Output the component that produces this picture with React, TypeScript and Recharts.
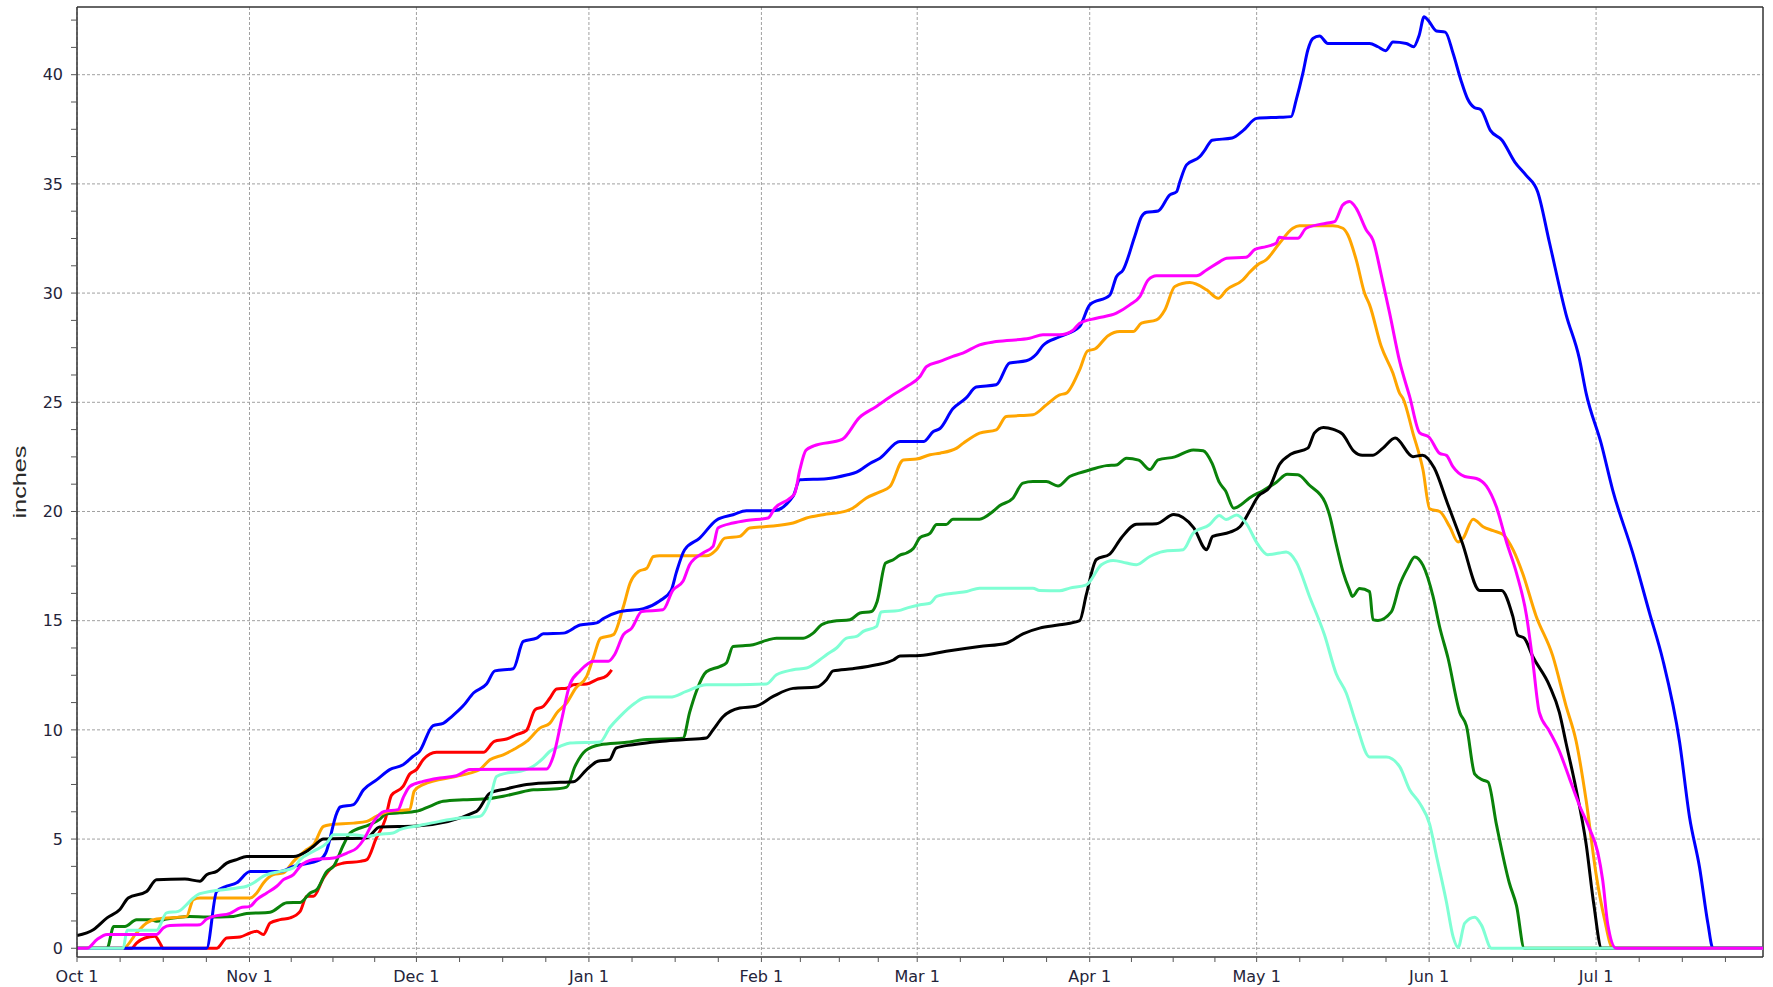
import { CartesianGrid, Line, LineChart, XAxis, YAxis } from 'recharts'

// day 0 = Oct 1, day 303 = Jul 31
const MONTH_DAYS = [0, 31, 61, 92, 123, 151, 182, 212, 243, 273]
const MONTH_LENGTHS = [31, 30, 31, 31, 28, 31, 30, 31, 30, 31]
const MONTH_LABELS = ['Oct 1', 'Nov 1', 'Dec 1', 'Jan 1', 'Feb 1', 'Mar 1', 'Apr 1', 'May 1', 'Jun 1', 'Jul 1']
const X_DOMAIN = [0, 303]
const Y_DOMAIN = [-0.4, 43.1]
const Y_GRID = [0, 5, 10, 15, 20, 25, 30, 35, 40]
const Y_TICKS = [
  0, 1.25, 2.5, 3.75, 5, 6.25, 7.5, 8.75, 10, 11.25, 12.5, 13.75, 15, 16.25, 17.5, 18.75, 20,
  21.25, 22.5, 23.75, 25, 26.25, 27.5, 28.75, 30, 31.25, 32.5, 33.75, 35, 36.25, 37.5, 38.75,
  40, 41.25, 42.5,
]

// [day, inches]
const black = [
  [0, 0.58], [3, 0.86], [5.4, 1.39], [7.7, 1.77], [9.2, 2.3], [12.5, 2.6], [14.3, 3.14], [19.4, 3.17],
  [22.1, 3.07], [23.3, 3.37], [25.1, 3.52], [26.9, 3.9], [28.7, 4.06], [30.5, 4.2], [38.9, 4.2],
  [41.3, 4.44], [42.5, 4.67], [44.3, 5.0], [52, 5.05], [54.4, 5.55], [61, 5.6], [71.8, 6.27],
  [74.2, 7.1], [77.2, 7.3], [80.8, 7.5], [86.8, 7.6], [89.2, 7.62], [91.6, 8.18], [93.6, 8.56],
  [95.7, 8.63], [96.9, 9.17], [99.9, 9.32], [104.7, 9.47], [108.9, 9.55], [113.1, 9.63], [114.3, 10.0],
  [116.1, 10.6], [119.1, 11.0], [122, 11.08], [125.1, 11.53], [128.7, 11.9], [132.9, 11.96],
  [134.7, 12.3], [135.9, 12.7], [139.4, 12.8], [143.7, 12.98], [146.7, 13.2], [147.9, 13.38],
  [151.5, 13.4], [156.2, 13.6], [162.2, 13.82], [167, 13.97], [170, 14.4], [173, 14.66],
  [176.6, 14.81], [180.2, 15.0], [181.4, 16.2], [183.2, 17.8], [185.6, 18.05], [187.7, 18.8],
  [190.4, 19.42], [194, 19.44], [197.1, 19.86], [200.7, 19.25], [203, 18.25], [204.1, 18.86],
  [207.2, 19.05], [209, 19.3], [210.7, 20.0], [212.3, 20.7], [214.3, 21.1], [216.1, 22.15],
  [218.2, 22.63], [221.2, 22.9], [222.4, 23.6], [224, 23.85], [225.8, 23.76], [227.4, 23.55],
  [229.5, 22.75], [231, 22.57], [232.9, 22.58], [234.7, 22.9], [236.9, 23.36], [240.1, 22.51],
  [241.8, 22.58], [243.9, 22.0], [246.3, 20.37], [248.9, 18.6], [252.1, 16.38], [256, 16.38],
  [258, 15.23], [258.9, 14.34], [260.1, 14.2], [261.6, 13.37], [264.6, 12.04], [266.4, 10.8],
  [267.6, 9.4], [269.4, 7.3], [271.2, 4.8], [272.6, 2.0], [274, 0], [303, 0],
]

const blue = [
  [0, 0], [23.3, 0], [25.1, 2.6], [26.9, 2.84], [28.7, 3.0], [31.1, 3.52], [36.5, 3.52], [38.9, 3.75],
  [43.7, 4.06], [44.7, 4.36], [46.7, 6.2], [47.3, 6.47], [49.7, 6.58], [51.5, 7.26], [53.9, 7.72],
  [56.2, 8.18], [58.6, 8.4], [60.4, 8.79], [61.5, 9.0], [64, 10.2], [65.8, 10.3], [67.3, 10.6],
  [69.4, 11.1], [71.3, 11.7], [73.6, 12.1], [75.1, 12.7], [78.4, 12.8], [80.2, 14.05], [82.6, 14.2],
  [83.8, 14.4], [87.4, 14.43], [90.4, 14.8], [93.4, 14.9], [94.6, 15.1], [97.3, 15.4], [101.8, 15.55],
  [104.7, 15.9], [106.8, 16.4], [107.7, 17.2], [109.2, 18.25], [111.9, 18.78], [114.9, 19.6],
  [117.9, 19.85], [120.3, 20.03], [125.1, 20.03], [128.7, 20.7], [129.9, 21.45], [134.7, 21.5],
  [138.3, 21.67], [140.1, 21.8], [142.5, 22.2], [144.3, 22.44], [147.9, 23.2], [152.1, 23.2],
  [153.9, 23.66], [155.1, 23.8], [157.4, 24.7], [159.8, 25.2], [161.6, 25.7], [165.2, 25.8],
  [167.6, 26.8], [170.6, 26.9], [172.4, 27.2], [173.6, 27.6], [176.6, 28.0], [180.2, 28.47],
  [182, 29.46], [185.6, 29.9], [186.8, 30.75], [188, 31.06], [190.1, 32.6], [191.3, 33.5],
  [192.2, 33.7], [194.3, 33.76], [196.4, 34.5], [197.6, 34.64], [198.2, 35.1], [199.4, 35.87],
  [201.8, 36.25], [202.7, 36.55], [204, 37.0], [207.6, 37.1], [209.6, 37.45], [212, 38.0],
  [216.1, 38.05], [218.2, 38.08], [219.1, 38.84], [220.3, 40.06], [221.2, 41.13], [222.1, 41.66],
  [223.3, 41.77], [224.8, 41.43], [232.3, 41.43], [233.8, 41.28], [235.2, 41.1], [236.5, 41.5],
  [238.9, 41.43], [240.2, 41.28], [241.2, 41.8], [242.1, 42.65], [242.8, 42.5], [244.3, 42.0],
  [245.9, 41.95], [247.3, 40.98], [248.7, 39.76], [249.9, 38.9], [251.1, 38.5], [252.3, 38.4],
  [254, 37.45], [256.1, 37.0], [258.4, 36.0], [260.4, 35.4], [262.5, 34.64], [264.6, 32.34],
  [267.6, 29.03], [270, 27.0], [271.2, 25.43], [273.9, 23.13], [276, 20.97], [279.6, 18.09],
  [282.6, 15.36], [285, 13.2], [288, 9.46], [289.8, 6.0], [291.6, 3.7], [293.1, 1.13], [294, 0],
  [303, 0],
]

const magenta = [
  [0, 0], [1.8, 0], [3.6, 0.4], [5.4, 0.63], [14.3, 0.63], [15.5, 0.93], [16.7, 1.04], [22.1, 1.08],
  [23.3, 1.34], [24.5, 1.46], [27.5, 1.6], [29.3, 1.85], [31.1, 1.92], [32.3, 2.23], [34.1, 2.53],
  [35.9, 2.84], [37.1, 3.14], [38.9, 3.37], [40.1, 3.75], [42.5, 4.06], [46.1, 4.13], [48.5, 4.36],
  [50.3, 4.59], [51.5, 4.97], [53.3, 5.8], [55.2, 6.27], [57.7, 6.35], [58.6, 6.88], [59.8, 7.41],
  [62.2, 7.64], [65.2, 7.8], [68.2, 7.9], [70.6, 8.18], [84.4, 8.21], [85.6, 8.79], [87.1, 10.47],
  [88.6, 12.1], [90.4, 12.7], [92.8, 13.14], [95.5, 13.14], [96.6, 13.44], [98.2, 14.36],
  [99.7, 14.66], [101.5, 15.42], [105.3, 15.5], [107.1, 16.4], [108.9, 16.8], [110.1, 17.56],
  [112.5, 18.1], [114.3, 18.4], [115.2, 19.24], [117.9, 19.47], [120.3, 19.59], [124.2, 19.7],
  [125.4, 20.15], [128.1, 20.6], [129, 20.84], [129.9, 21.9], [131, 22.8], [132.4, 23.0],
  [137.5, 23.3], [140.6, 24.3], [143.6, 24.8], [146.7, 25.34], [149.1, 25.72], [151.5, 26.18],
  [152.7, 26.64], [155.1, 26.87], [157.4, 27.1], [159.2, 27.25], [162.2, 27.63], [165.2, 27.78],
  [171.2, 27.93], [173.6, 28.09], [176.6, 28.09], [179, 28.3], [180.2, 28.62], [183.2, 28.85],
  [186.8, 29.08], [189.2, 29.46], [191, 29.84], [192.5, 30.6], [194, 30.79], [201.2, 30.79],
  [203, 31.06], [205.4, 31.44], [206.6, 31.6], [210.1, 31.64], [211.7, 32.0], [213.7, 32.13],
  [215.5, 32.28], [216.1, 32.56], [217.3, 32.51], [219.4, 32.51], [220.9, 32.97], [224.5, 33.2],
  [226, 33.27], [227.5, 34.04], [228.7, 34.19], [229.9, 33.88], [231.7, 32.89], [232.9, 32.43],
  [234.4, 30.83], [235.9, 29.08], [237.7, 26.87], [239.5, 25.26], [241.3, 23.6], [243, 23.4],
  [244.9, 22.66], [246.1, 22.57], [247.3, 22.04], [249.4, 21.6], [251.5, 21.51], [253.3, 21.16],
  [255.1, 20.2], [256.9, 18.6], [258.7, 17.18], [260.5, 15.23], [261.6, 13.2], [262.8, 10.8],
  [264.6, 9.95], [266.4, 9.03], [268.2, 7.79], [270, 6.55], [271.8, 5.49], [273.3, 4.4],
  [274.2, 3.1], [275.1, 1.1], [276.6, 0], [303, 0],
]

const orange = [
  [0, 0], [8.3, 0], [10.7, 0.7], [12.5, 1.16], [14.3, 1.34], [19.7, 1.46], [20.9, 2.23], [22.1, 2.3],
  [31.1, 2.3], [32.3, 2.53], [33.5, 2.99], [35.3, 3.37], [37.1, 3.45], [38.9, 3.98], [41.3, 4.52],
  [42.5, 4.74], [44.3, 5.58], [45.5, 5.66], [49.7, 5.73], [52.1, 5.81], [53.8, 6.04], [56.2, 6.27],
  [59.8, 6.35], [60.6, 7.2], [62.2, 7.49], [68.2, 7.87], [70.6, 8.02], [72.4, 8.18], [74.2, 8.63],
  [76.6, 8.86], [78.4, 9.09], [80.8, 9.47], [83.2, 10.08], [85, 10.31], [86.2, 10.77], [88, 11.23],
  [89.6, 11.9], [91.6, 12.45], [92.8, 13.3], [94.1, 14.2], [96.4, 14.36], [98.2, 15.65],
  [99.4, 16.72], [100.9, 17.25], [102.4, 17.4], [103.6, 17.94], [104.7, 17.97], [113.1, 17.97],
  [114.9, 18.25], [116.4, 18.78], [119.1, 18.86], [120.9, 19.24], [123.9, 19.31], [128.7, 19.47],
  [131.1, 19.7], [134.1, 19.85], [138.3, 20.03], [139.4, 20.15], [141.8, 20.61], [144.3, 20.9],
  [146.1, 21.14], [148.5, 22.36], [150.9, 22.4], [153.3, 22.6], [155.1, 22.67], [158.1, 22.9],
  [159.3, 23.13], [162.2, 23.59], [165.2, 23.74], [167, 24.35], [171.8, 24.43], [174.2, 24.88],
  [176.6, 25.34], [177.8, 25.42], [180.2, 26.5], [181.6, 27.35], [183, 27.45], [185.3, 28.05],
  [187.4, 28.24], [189.8, 28.24], [191.3, 28.62], [194, 28.77], [195.5, 29.23], [197.3, 30.3],
  [200, 30.48], [203, 30.15], [205.1, 29.76], [206.6, 30.15], [209.5, 30.6], [210.7, 30.94],
  [212.2, 31.3], [213.7, 31.52], [216.1, 32.28], [218.5, 32.97], [219.7, 33.08], [225.7, 33.08],
  [227.5, 32.97], [228.4, 32.66], [229.9, 31.52], [231.4, 29.99], [232.3, 29.46], [234.4, 27.55],
  [236.5, 26.33], [237.7, 25.41], [238.3, 25.18], [240.1, 23.58], [241.9, 21.9], [243.1, 20.12],
  [244.9, 20.0], [246.7, 19.3], [248.2, 18.6], [249.1, 18.77], [250.9, 19.65], [252.7, 19.3],
  [254.5, 19.12], [256.3, 18.94], [258.1, 18.24], [259.8, 17.17], [262.2, 15.23], [265.2, 13.4],
  [267.6, 11.1], [269.4, 9.5], [271.2, 6.8], [273, 3.4], [274.5, 1.35], [276, 0], [303, 0],
]

const green = [
  [0, 0], [5.4, 0], [6.6, 1.0], [8.6, 1.0], [10.7, 1.31], [13.1, 1.31], [14.3, 1.24], [16.1, 1.34],
  [20.3, 1.46], [23.3, 1.43], [28.1, 1.46], [30.5, 1.59], [34.7, 1.65], [37.7, 2.08], [40.1, 2.1],
  [41.9, 2.53], [43.1, 2.69], [44.9, 3.52], [46.1, 3.75], [47.9, 4.74], [49.1, 5.28], [52.6, 5.66],
  [54.4, 5.9], [55.5, 6.15], [58, 6.2], [61, 6.27], [63.4, 6.5], [65.8, 6.73], [69.4, 6.8], [73, 6.83],
  [76.6, 6.96], [79, 7.1], [82, 7.26], [85.6, 7.29], [88, 7.38], [89.5, 8.33], [91.4, 9.05],
  [94, 9.32], [98.8, 9.43], [101.8, 9.55], [108.9, 9.62], [110.1, 10.8], [111.3, 11.76],
  [113.1, 12.66], [115.5, 12.9], [116.7, 13.06], [117.9, 13.82], [119.7, 13.85], [121.5, 13.9],
  [123.9, 14.1], [125.7, 14.2], [130.5, 14.2], [132.3, 14.43], [133.8, 14.81], [135.9, 14.97],
  [138.9, 15.04], [140.7, 15.35], [142.8, 15.42], [143.8, 15.88], [145.3, 17.63], [146.7, 17.79],
  [147.9, 18.0], [149.1, 18.1], [150.3, 18.3], [151.5, 18.8], [153.3, 19.0], [154.5, 19.4],
  [156.2, 19.4], [157.4, 19.65], [162.2, 19.65], [164.6, 20.0], [165.8, 20.26], [168.2, 20.61],
  [170, 21.3], [171.8, 21.37], [174.2, 21.37], [176.3, 21.17], [178.4, 21.6], [180.2, 21.77],
  [182, 21.9], [185, 22.1], [186.8, 22.13], [188.6, 22.44], [190.8, 22.35], [192.8, 21.92],
  [194.3, 22.36], [197.3, 22.5], [200.6, 22.82], [202.4, 22.78], [204, 22.2], [205.3, 21.33],
  [206.4, 20.95], [207.9, 20.15], [209.3, 20.33], [210.7, 20.62], [213.1, 20.95], [215.5, 21.33],
  [217.5, 21.7], [219.4, 21.68], [221.5, 21.2], [224.3, 20.42], [225.1, 19.83], [226.3, 18.5],
  [227.5, 17.26], [228.7, 16.4], [229.2, 16.11], [230.5, 16.47], [232.3, 16.33], [232.9, 15.05],
  [233.8, 15.01], [236.2, 15.4], [237.7, 16.64], [239.2, 17.44], [240.4, 17.92], [241.9, 17.53],
  [243.7, 16.11], [244.9, 14.7], [246.4, 13.28], [248.5, 10.8], [249.7, 10.18], [251.2, 7.97],
  [252.7, 7.7], [253.6, 7.61], [255.1, 5.66], [257.4, 3.0], [258.7, 1.95], [260.1, 0], [303, 0],
]

const aqua = [
  [0, 0], [8.3, 0], [9, 0.82], [14.3, 0.82], [16.1, 1.62], [18.2, 1.69], [19.7, 2.0], [20.9, 2.3],
  [22.1, 2.5], [28.7, 2.76], [30.5, 2.84], [31.7, 2.99], [33.5, 3.3], [36.5, 3.52], [38.9, 3.68],
  [40.1, 4.06], [42.5, 4.44], [44.9, 4.82], [46.1, 5.2], [49.7, 5.2], [52.1, 5.12], [54.4, 5.22],
  [56.8, 5.28], [58, 5.43], [61.3, 5.61], [65.2, 5.81], [68.8, 5.96], [72.4, 6.04], [74.2, 6.8],
  [75.4, 7.87], [77.2, 8.02], [79.6, 8.1], [82, 8.33], [83.8, 8.71], [85, 9.02], [86.8, 9.24],
  [88.6, 9.4], [94, 9.45], [95.8, 10.12], [97.6, 10.62], [100.3, 11.23], [101.8, 11.46],
  [103, 11.5], [106.6, 11.5], [109.5, 11.76], [113.1, 12.07], [118.5, 12.07], [123.9, 12.1],
  [125.7, 12.52], [128.7, 12.75], [131.1, 12.83], [133.5, 13.21], [134.7, 13.44], [136.5, 13.75],
  [138.3, 14.2], [140.1, 14.28], [141.3, 14.51], [143.7, 14.74], [144.5, 15.4], [147.6, 15.46],
  [149.4, 15.6], [151.5, 15.73], [153.3, 15.8], [154.5, 16.11], [157.4, 16.26], [159.9, 16.34],
  [162.2, 16.49], [171.8, 16.49], [173, 16.38], [176.6, 16.37], [178.4, 16.49], [181.4, 16.64],
  [184.1, 17.56], [186.2, 17.76], [188.6, 17.64], [190.4, 17.56], [192.8, 17.94], [195.2, 18.17],
  [198.8, 18.25], [200.6, 19.01], [203.5, 19.39], [205.3, 19.82], [206.5, 19.63], [208.4, 19.84],
  [210.1, 19.47], [212.2, 18.5], [214, 18.02], [216.1, 18.1], [217.3, 18.14], [219.1, 17.7],
  [221.5, 16.11], [224.2, 14.34], [226.3, 12.57], [228.1, 11.69], [229.9, 10.27], [232.3, 8.76],
  [235.3, 8.76], [237.7, 8.32], [239.5, 7.26], [241.3, 6.64], [243.1, 5.67], [244.3, 4.25],
  [246.1, 2.13], [247.3, 0.53], [248.2, 0.04], [249.4, 1.15], [251.2, 1.42], [252.4, 1.06],
  [254.2, 0], [303, 0],
]

const red = [
  [0, 0], [9.8, 0], [10.7, 0.24], [12.2, 0.47], [14, 0.55], [14.9, 0.24], [15.5, 0], [25.1, 0],
  [26.9, 0.47], [29.3, 0.52], [31.1, 0.7], [32.3, 0.78], [33.5, 0.63], [34.7, 1.16], [36.5, 1.31],
  [38.3, 1.39], [40.1, 1.69], [41.3, 2.38], [42.5, 2.38], [44.3, 3.22], [46.1, 3.75], [47.9, 3.9],
  [50.9, 3.98], [52.1, 4.06], [53.8, 5.05], [55.4, 5.9], [56.5, 7.0], [58.6, 7.41], [59.8, 7.98],
  [61, 8.18], [62.2, 8.63], [64.6, 8.97], [73, 8.97], [75, 9.47], [77.2, 9.58], [79, 9.78],
  [80.8, 9.98], [82.3, 10.92], [83.8, 11.08], [85, 11.46], [86.2, 11.87], [88, 11.91], [89.2, 12.07],
  [91.6, 12.1], [93.4, 12.3], [95.2, 12.48], [96.1, 12.75],
]

// drawing order, bottom to top
const SERIES = [
  { name: 'red', color: '#ff0000', points: red },
  { name: 'green', color: '#0a820a', points: green },
  { name: 'orange', color: '#ffa500', points: orange },
  { name: 'blue', color: '#0000ff', points: blue },
  { name: 'black', color: '#000000', points: black },
  { name: 'aqua', color: '#7fffd4', points: aqua },
  { name: 'magenta', color: '#ff00ff', points: magenta },
]

const X_TICKS = MONTH_DAYS.flatMap((d, i) => [0, 1, 2, 3].map((k) => d + (k * MONTH_LENGTHS[i]) / 4))

const tickFont = { fontFamily: 'DejaVu Sans, Verdana, sans-serif', fontSize: 16, fill: '#24243a' }

function YLabel({ viewBox }: any) {
  const cx = viewBox.x + 19
  const cy = viewBox.y + viewBox.height / 2
  return (
    <text
      x={cx}
      y={cy}
      transform={`rotate(-90 ${cx} ${cy})`}
      textAnchor="middle"
      dominantBaseline="central"
      textLength={73}
      lengthAdjust="spacingAndGlyphs"
      fontSize={19}
      fontFamily="Liberation Sans, Arial, sans-serif"
      fill="#2a2a2a"
    >
      inches
    </text>
  )
}

export default function App() {
  return (
    <div style={{ position: 'absolute', left: 0, top: 0, background: '#fff' }}>
      <LineChart width={1773} height={987} margin={{ top: 7, right: 10, bottom: 0, left: 0 }}>
        <CartesianGrid
          horizontalValues={Y_GRID}
          verticalValues={MONTH_DAYS}
          stroke="#a0a0a0"
          strokeDasharray="3 2"
        />
        {/* solid frame on the top and right edges of the plot */}
        <CartesianGrid
          horizontalValues={[Y_DOMAIN[1]]}
          verticalValues={[X_DOMAIN[1]]}
          stroke="#333"
          strokeWidth={1.5}
        />
        <XAxis
          dataKey="d"
          type="number"
          domain={X_DOMAIN}
          allowDataOverflow
          ticks={X_TICKS}
          interval={0}
          height={30}
          tickSize={5}
          tickMargin={9}
          tickFormatter={(v: number) => {
            const i = MONTH_DAYS.indexOf(v)
            return i >= 0 ? MONTH_LABELS[i] : ''
          }}
          tick={tickFont}
          axisLine={{ stroke: '#333', strokeWidth: 1.5 }}
          tickLine={{ stroke: '#555' }}
        />
        <YAxis
          type="number"
          domain={Y_DOMAIN}
          allowDataOverflow
          ticks={Y_TICKS}
          interval={0}
          width={77}
          tickSize={6}
          tickMargin={8}
          tickFormatter={(v: number) => (v % 5 === 0 ? String(v) : '')}
          tick={tickFont}
          axisLine={{ stroke: '#333', strokeWidth: 1.5 }}
          tickLine={{ stroke: '#555' }}
          label={<YLabel />}
        />
        {SERIES.map((s) => (
          <Line
            key={s.name}
            data={s.points.map(([d, v]) => ({ d, v }))}
            dataKey="v"
            type="monotone"
            stroke={s.color}
            strokeWidth={3}
            dot={false}
            activeDot={false}
            isAnimationActive={false}
          />
        ))}
      </LineChart>
    </div>
  )
}
